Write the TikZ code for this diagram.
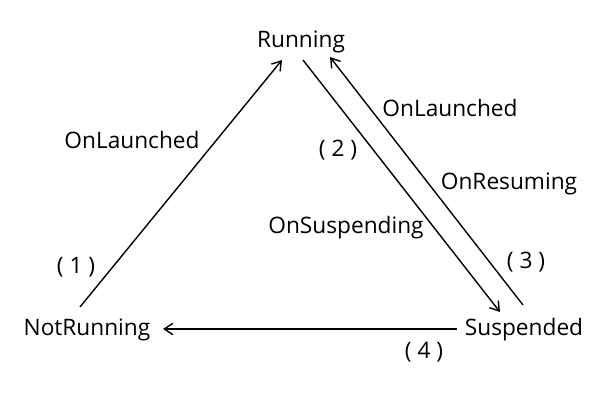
\documentclass[tikz,border=0pt]{standalone}
\usepackage{fontspec}
\setmainfont{Open Sans}
\usetikzlibrary{arrows.meta, calc}

\begin{document}
\begin{tikzpicture}[
        x=0.75pt, y=-0.75pt,
        every node/.style={font=\fontsize{17}{20}\selectfont, inner sep=0pt},
        lbl/.style={font=\fontsize{17}{20}\selectfont},
        arrow/.style={-{Straight Barb[length=6.5pt, width=8.5pt]}, line width=1.05pt}
      ]
    \useasboundingbox (0,0) rectangle (600,400);

    \node (running) at (301,42) {Running};
    \node (notrunning) at (87,330) {NotRunning};
    \node (suspended) at (524,330) {Suspended};

    \draw[arrow] ($(notrunning)+(-7,-23)$) -- ($(running)+(-19,18)$);
    \draw[arrow] ($(running)+(2,18)$) -- ($(suspended)+(-24,-18)$);
    \draw[arrow] ($(suspended)+(-1,-25)$) -- ($(running)+(29,15)$);
    \draw[arrow] ($(suspended)+(-67,-1)$) -- ($(notrunning)+(76,-1)$);

    \node[lbl] (launchA) at (132,140) {OnLaunched};
    \node[lbl] (one) at (76,267) {( 1 )};
    \node[lbl] (two) at (338,150) {( 2 )};
    \node[lbl] (suspending) at (346,228) {OnSuspending};
    \node[lbl] (launchB) at (450,108) {OnLaunched};
    \node[lbl] (resuming) at (509,184) {OnResuming};
    \node[lbl] (three) at (526,262) {( 3 )};
    \node[lbl] (four) at (424,352) {( 4 )};
\end{tikzpicture}
\end{document}
